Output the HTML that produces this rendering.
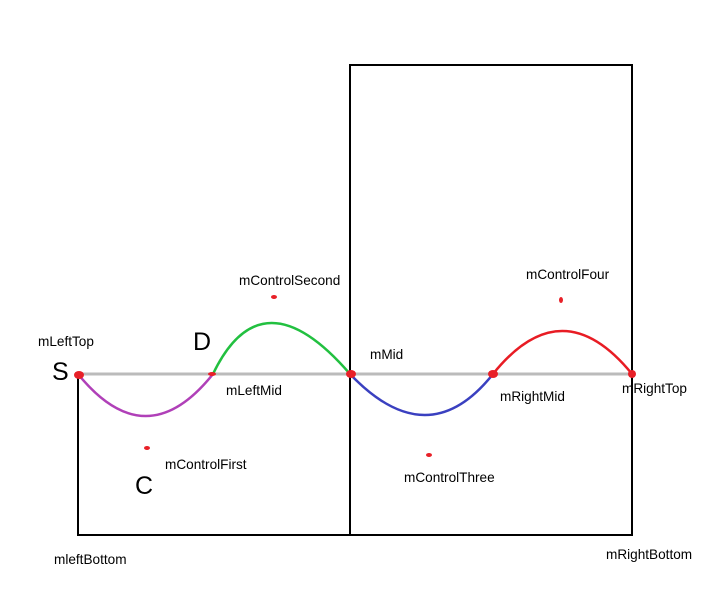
<!DOCTYPE html>
<html><head><meta charset="utf-8"><style>
body{margin:0;background:#fff;}
svg{display:block;font-family:"Liberation Sans",sans-serif;}
</style></head><body>
<svg width="710" height="599" viewBox="0 0 710 599">
<g stroke="#000" stroke-width="2" fill="none">
<line x1="78" y1="374" x2="78" y2="536"/>
<line x1="77" y1="535" x2="633" y2="535"/>
<line x1="350" y1="65" x2="350" y2="536"/>
<line x1="349" y1="65" x2="633" y2="65"/>
<line x1="632" y1="65" x2="632" y2="536"/>
</g>
<line x1="78" y1="374" x2="632" y2="374" stroke="#bbb" stroke-width="3"/>
<path d="M78 374 Q146 458 213 374" stroke="#b040b8" stroke-width="2.5" fill="none"/>
<path d="M213 374 Q262 272 350 374" stroke="#22c040" stroke-width="2.5" fill="none"/>
<path d="M350 374 Q428 456 493 374" stroke="#3a40c0" stroke-width="2.5" fill="none"/>
<path d="M493 374 Q562 288 632 374" stroke="#e81c24" stroke-width="2.5" fill="none"/>
<g fill="#e82028">
<ellipse cx="79" cy="375" rx="5" ry="4"/>
<ellipse cx="212" cy="374" rx="4" ry="2"/>
<ellipse cx="351" cy="374" rx="5" ry="4"/>
<ellipse cx="493" cy="374" rx="5" ry="4"/>
<ellipse cx="632" cy="374" rx="4" ry="4"/>
<ellipse cx="147" cy="448" rx="3" ry="2"/>
<ellipse cx="274" cy="297" rx="3" ry="2"/>
<ellipse cx="429" cy="455" rx="3" ry="2"/>
<ellipse cx="561" cy="300" rx="2" ry="3"/>
</g>
<g font-size="13.6" fill="#000">
<text x="38" y="346">mLeftTop</text>
<text x="226" y="395">mLeftMid</text>
<text x="239" y="285">mControlSecond</text>
<text x="165" y="469">mControlFirst</text>
<text x="370" y="359">mMid</text>
<text x="500" y="401">mRightMid</text>
<text x="526" y="279">mControlFour</text>
<text x="404" y="482">mControlThree</text>
<text x="622" y="393">mRightTop</text>
<text x="54" y="564">mleftBottom</text>
<text x="606" y="559">mRightBottom</text>
</g>
<g font-size="25" fill="#000">
<text x="52" y="380">S</text>
<text x="193" y="350">D</text>
<text x="135" y="494">C</text>
</g>
</svg>
</body></html>
